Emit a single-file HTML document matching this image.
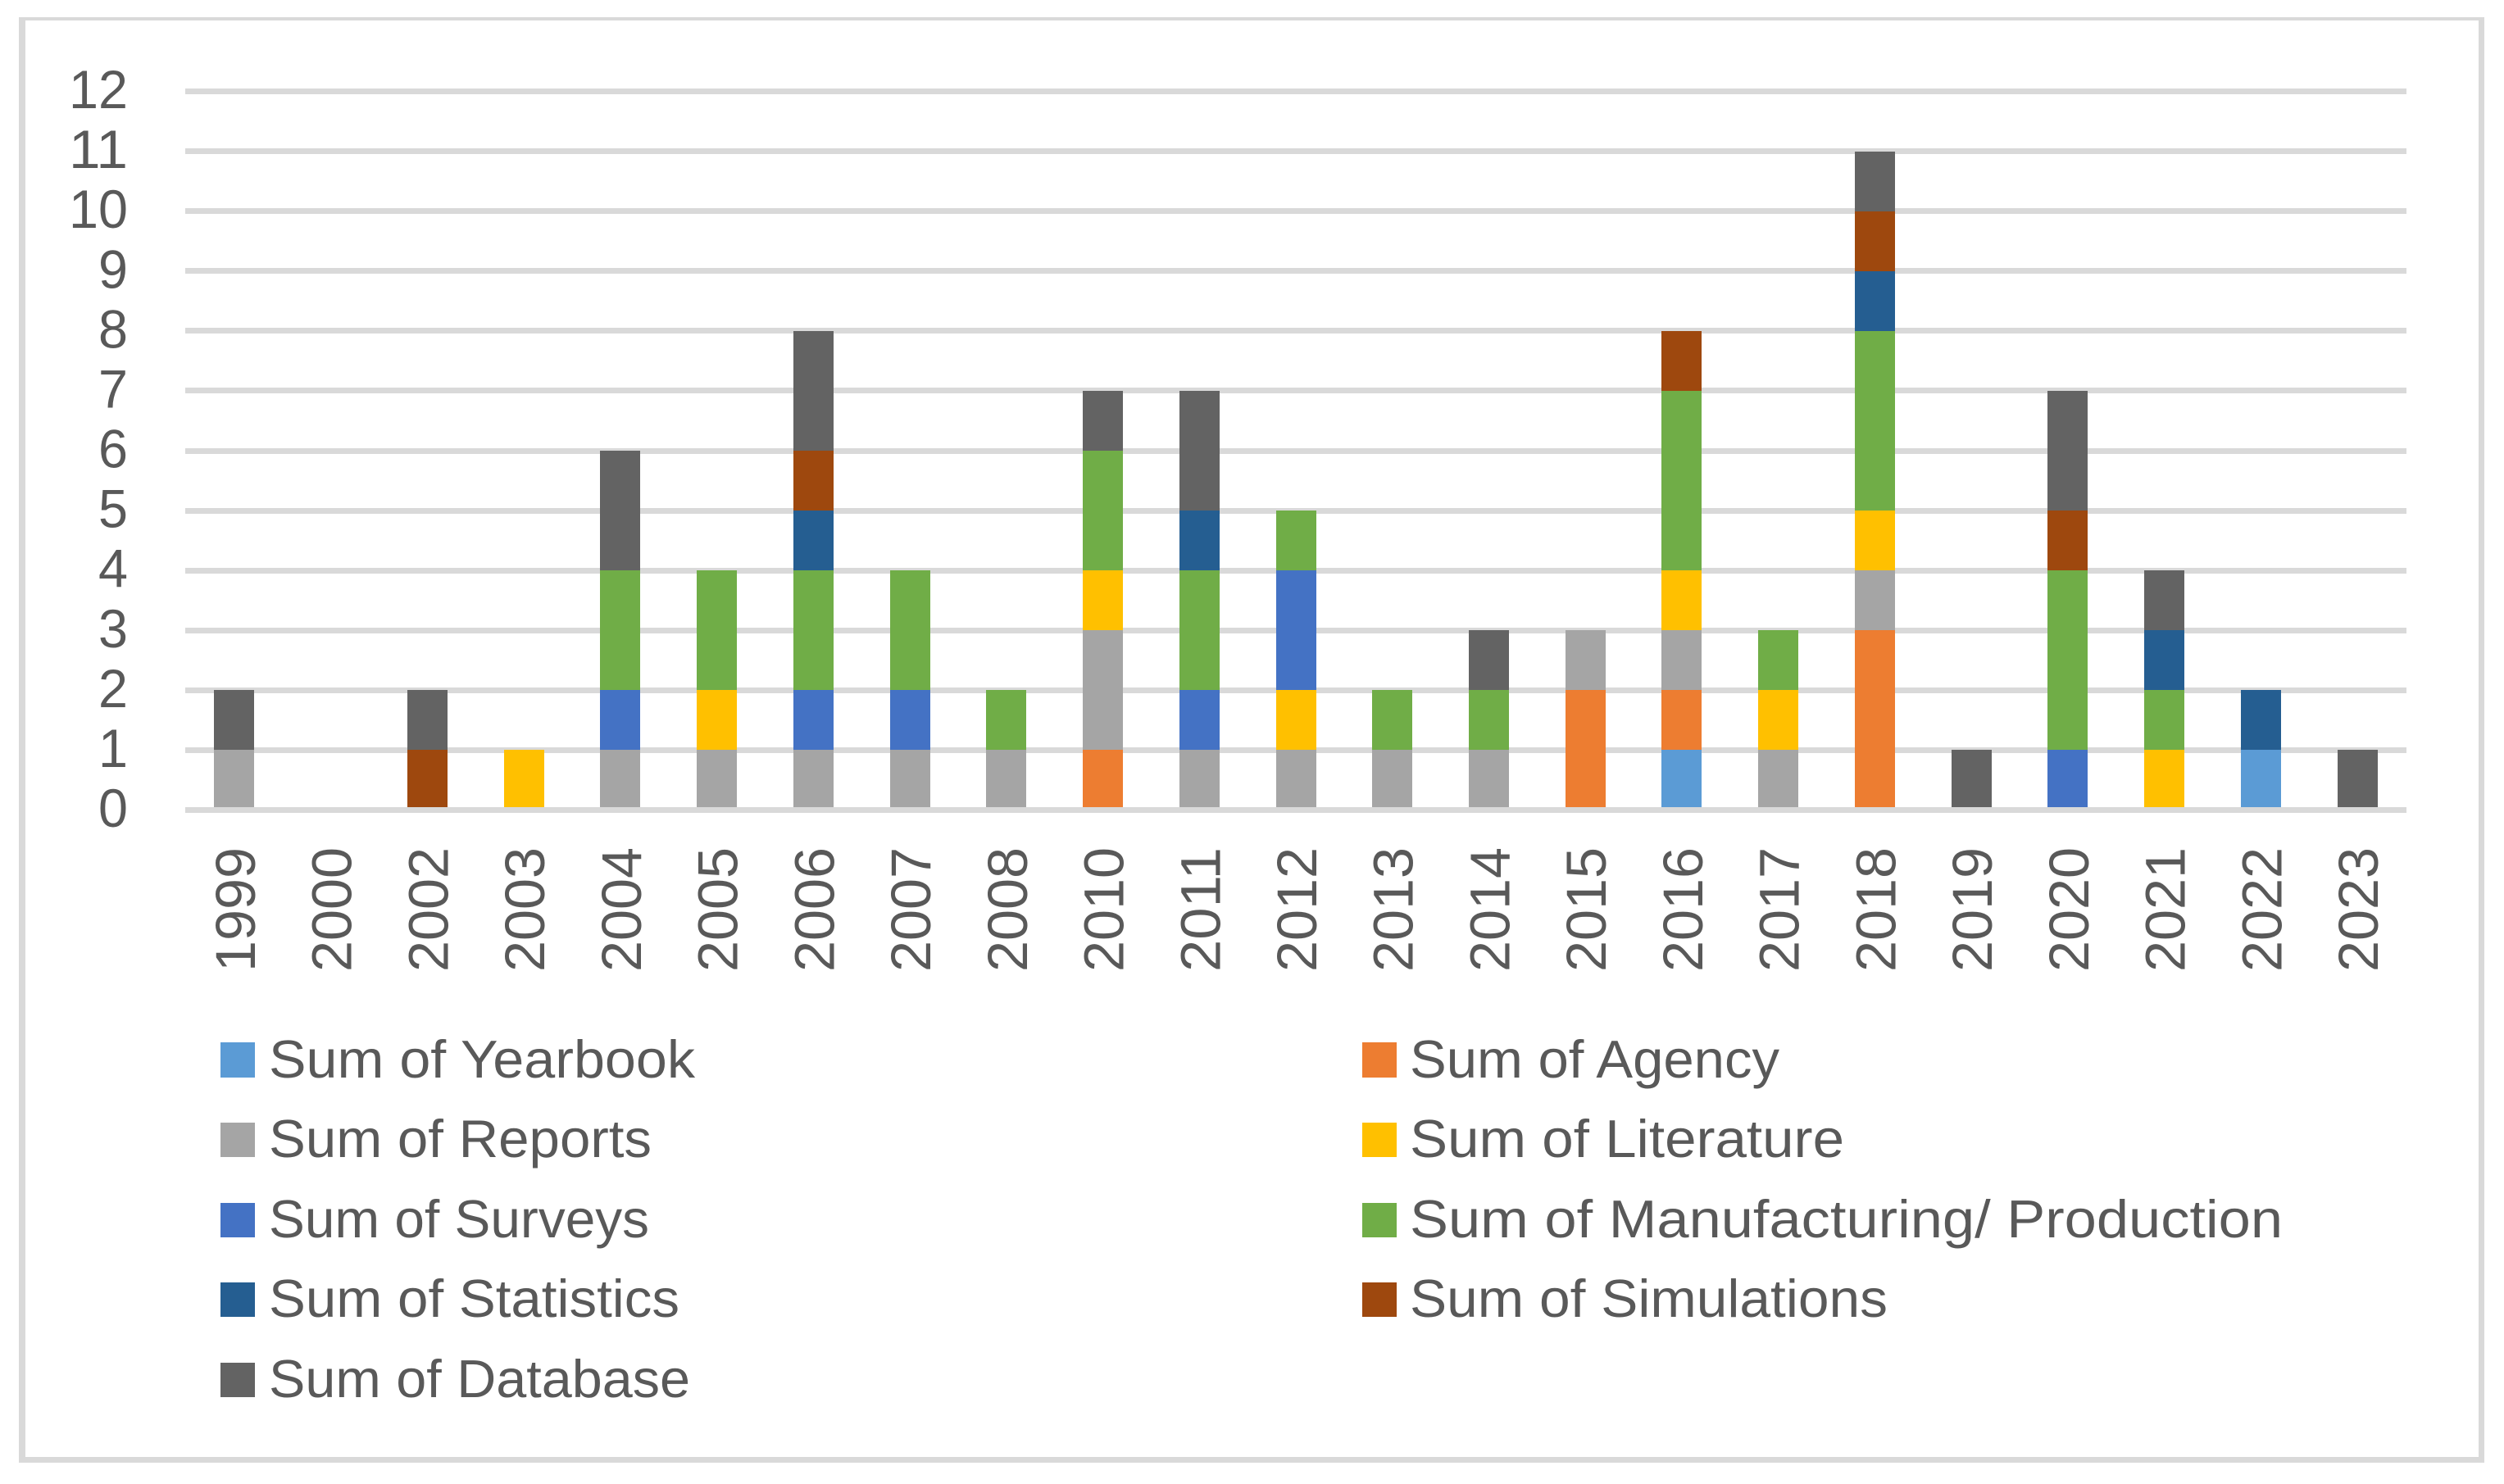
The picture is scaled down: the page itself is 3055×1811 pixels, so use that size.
<!DOCTYPE html>
<html lang="en">
<head>
<meta charset="utf-8">
<title>Stacked column chart of data sources by year</title>
<style>
  html, body { margin: 0; padding: 0; background: #ffffff; }
  svg { display: block; }
  text { font-family: "Liberation Sans", sans-serif; fill: #595959; }
  .legend-label { font-size: 65px; }
  rect { shape-rendering: crispEdges; }
</style>
</head>
<body>
<svg id="chart" xmlns="http://www.w3.org/2000/svg" width="3055" height="1811" viewBox="0 0 3055 1811">
  <rect x="0" y="0" width="3055" height="1811" fill="#ffffff"/>
  <g fill="#d9d9d9">
    <rect x="23" y="21" width="3008" height="4"/>
    <rect x="23" y="1778" width="3008" height="7"/>
    <rect x="23" y="21" width="8" height="1764"/>
    <rect x="3024" y="21" width="7" height="1764"/>
  </g>
  <g id="grid"></g>
  <g id="bars"></g>
  <g id="axis-top"></g>
  <g id="y-labels"></g>
  <g id="x-labels"></g>
  <g>
    <g>
      <rect x="269" y="1272" width="42" height="43" fill="#5b9bd5"/>
      <text class="legend-label" x="328" y="1315" textLength="520" lengthAdjust="spacingAndGlyphs">Sum of Yearbook</text>
    </g>
    <g>
      <rect x="269" y="1370" width="42" height="42" fill="#a5a5a5"/>
      <text class="legend-label" x="328" y="1412" textLength="467" lengthAdjust="spacingAndGlyphs">Sum of Reports</text>
    </g>
    <g>
      <rect x="269" y="1468" width="42" height="42" fill="#4472c4"/>
      <text class="legend-label" x="328" y="1510" textLength="464" lengthAdjust="spacingAndGlyphs">Sum of Surveys</text>
    </g>
    <g>
      <rect x="269" y="1565" width="42" height="42" fill="#255e91"/>
      <text class="legend-label" x="328" y="1607" textLength="501" lengthAdjust="spacingAndGlyphs">Sum of Statistics</text>
    </g>
    <g>
      <rect x="269" y="1663" width="42" height="42" fill="#636363"/>
      <text class="legend-label" x="328" y="1705" textLength="514" lengthAdjust="spacingAndGlyphs">Sum of Database</text>
    </g>
    <g>
      <rect x="1662" y="1272" width="42" height="43" fill="#ed7d31"/>
      <text class="legend-label" x="1720" y="1315" textLength="451" lengthAdjust="spacingAndGlyphs">Sum of Agency</text>
    </g>
    <g>
      <rect x="1662" y="1370" width="42" height="42" fill="#ffc000"/>
      <text class="legend-label" x="1720" y="1412" textLength="530" lengthAdjust="spacingAndGlyphs">Sum of Literature</text>
    </g>
    <g>
      <rect x="1662" y="1468" width="42" height="42" fill="#70ad47"/>
      <text class="legend-label" x="1720" y="1510" textLength="1065" lengthAdjust="spacingAndGlyphs">Sum of Manufacturing/ Production</text>
    </g>
    <g>
      <rect x="1662" y="1565" width="42" height="42" fill="#9e480e"/>
      <text class="legend-label" x="1720" y="1607" textLength="583" lengthAdjust="spacingAndGlyphs">Sum of Simulations</text>
    </g>
  </g>
</svg>
<script>
// Chart data
const categories = ['1999','2000','2002','2003','2004','2005','2006','2007','2008','2010','2011','2012','2013','2014','2015','2016','2017','2018','2019','2020','2021','2022','2023'];
const yTickLabels = ['0','1','2','3','4','5','6','7','8','9','10','11','12'];
const yearbook      = [0,0,0,0,0,0,0,0,0,0,0,0,0,0,0,1,0,0,0,0,0,1,0];
const agency        = [0,0,0,0,0,0,0,0,0,1,0,0,0,0,2,1,0,3,0,0,0,0,0];
const reports       = [1,0,0,0,1,1,1,1,1,2,1,1,1,1,1,1,1,1,0,0,0,0,0];
const literature    = [0,0,0,1,0,1,0,0,0,1,0,1,0,0,0,1,1,1,0,0,1,0,0];
const surveys       = [0,0,0,0,1,0,1,1,0,0,1,2,0,0,0,0,0,0,0,1,0,0,0];
const manufacturing = [0,0,0,0,2,2,2,2,1,2,2,1,1,1,0,3,1,3,0,3,1,0,0];
const statistics    = [0,0,0,0,0,0,1,0,0,0,1,0,0,0,0,0,0,1,0,0,1,1,0];
const simulations   = [0,0,1,0,0,0,1,0,0,0,0,0,0,0,0,1,0,1,0,1,0,0,0];
const database      = [1,0,1,0,2,0,2,0,0,1,2,0,0,1,0,0,0,1,1,2,1,0,1];

const seriesValues = [yearbook, agency, reports, literature, surveys, manufacturing, statistics, simulations, database];
const seriesNames = ['yearbook','agency','reports','literature','surveys','manufacturing-production','statistics','simulations','database'];
const seriesColors = ['#5b9bd5','#ed7d31','#a5a5a5','#ffc000','#4472c4','#70ad47','#255e91','#9e480e','#636363'];

// Layout and axis functions
const SVG_NS = 'http://www.w3.org/2000/svg';
const plotLeft = 227;
const plotRight = 2935;
const gridLeft = 226;
const gridRight = 2936;
const y0 = 988.5;
const y12 = 111.5;
const yMax = 12;
const barWidth = 49;
const gridThickness = 7;
const yScale = function (v) { return y0 + (y12 - y0) * v / yMax; };
const xBand = (plotRight - plotLeft) / categories.length;
const xCenter = function (i) { return plotLeft + (i + 0.5) * xBand; };

function make(tag, attrs, parent) {
  const node = document.createElementNS(SVG_NS, tag);
  Object.keys(attrs).forEach(function (k) { node.setAttribute(k, attrs[k]); });
  parent.appendChild(node);
  return node;
}

// Gridlines (the zero line is drawn over the bars)
const gridGroup = document.getElementById('grid');
const axisGroup = document.getElementById('axis-top');
yTickLabels.forEach(function (label) {
  const v = Number(label);
  const line = make('rect', {
    x: gridLeft,
    y: Math.round(yScale(v) - gridThickness / 2),
    width: gridRight - gridLeft,
    height: gridThickness,
    fill: '#d9d9d9'
  }, v === 0 ? axisGroup : gridGroup);
  
  
});

// Stacked bars
const barsGroup = document.getElementById('bars');
categories.forEach(function (year, i) {
  let running = 0;
  seriesValues.forEach(function (values, s) {
    const value = values[i];
    if (!value) { return; }
    const top = Math.round(yScale(running + value));
    const bottom = Math.round(yScale(running));
    const bar = make('rect', {
      x: Math.round(xCenter(i) - barWidth / 2),
      y: top,
      width: barWidth,
      height: bottom - top,
      fill: seriesColors[s]
    }, barsGroup);
    
    
    running += value;
  });
});

// Y axis tick labels
const yLabelGroup = document.getElementById('y-labels');
yTickLabels.forEach(function (label) {
  const v = Number(label);
  const tick = make('text', {
    x: 156,
    y: yScale(v) + 20.5,
    'text-anchor': 'end',
    'font-size': 66,
    textLength: 36 * label.length,
    lengthAdjust: 'spacingAndGlyphs'
  }, yLabelGroup);
  
  
  tick.textContent = label;
});

// X axis tick labels
const xLabelGroup = document.getElementById('x-labels');
categories.forEach(function (year, i) {
  const px = xCenter(i) + 25;
  const py = 1186;
  const tick = make('text', {
    x: px,
    y: py,
    transform: 'rotate(-90 ' + px + ' ' + py + ')',
    'font-size': 69,
    textLength: 152,
    lengthAdjust: 'spacingAndGlyphs'
  }, xLabelGroup);
  
  
  tick.textContent = year;
});
</script>
</body>
</html>
